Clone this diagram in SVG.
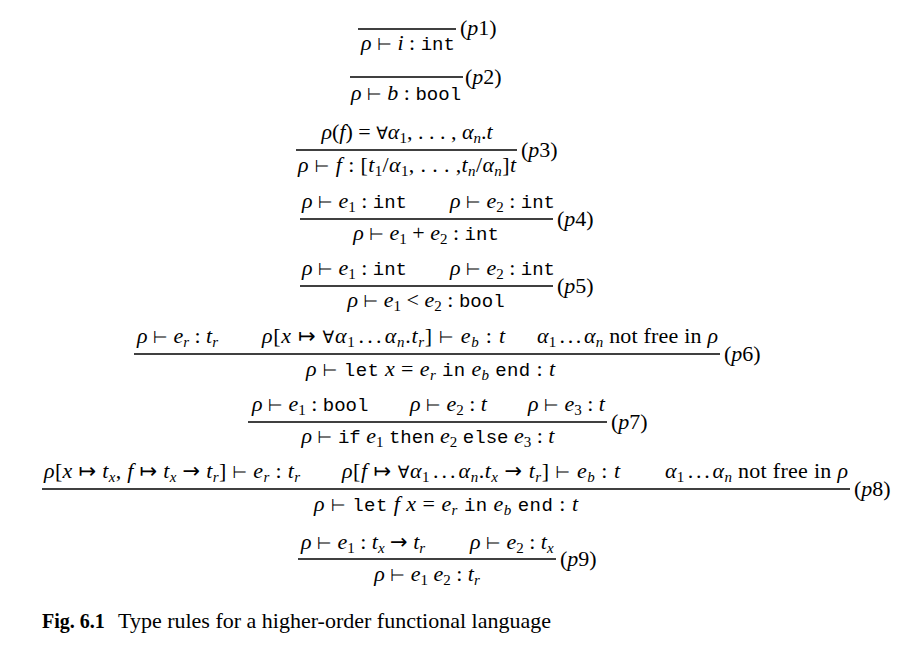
<svg xmlns="http://www.w3.org/2000/svg" width="906" height="661" viewBox="0 0 906 661">
<style>
.m{font-family:"Liberation Serif","Times New Roman",serif;font-size:22px;fill:#000}
.i{font-style:italic}
.tt{font-family:"Liberation Mono","Courier New",monospace;font-size:19px;font-style:normal}
.y{font-family:"DejaVu Sans",sans-serif;font-size:17px;font-style:normal}
.ar{font-family:"DejaVu Sans",sans-serif;font-size:21px;font-style:normal}
.s{font-size:15px}
.d{letter-spacing:2.5px}
.bar{stroke:#000;stroke-width:1.3}
.cap{font-family:"Liberation Serif","Times New Roman",serif;font-size:22px;fill:#000}
.fig{font-size:20px;font-weight:bold}
</style>
<rect width="906" height="661" fill="#fff"/>

<g id="p1">
<line class="bar" x1="358" y1="29" x2="456" y2="29"/>
<text class="m" x="408" y="50" text-anchor="middle"><tspan class="i">ρ</tspan> <tspan class="y">⊢</tspan> <tspan class="i">i</tspan> : <tspan class="tt">int</tspan></text>
<text class="m" x="460" y="35">(<tspan class="i">p</tspan>1)</text>
</g>

<g id="p2">
<line class="bar" x1="350" y1="77" x2="463" y2="77"/>
<text class="m" x="406" y="100" text-anchor="middle"><tspan class="i">ρ</tspan> <tspan class="y">⊢</tspan> <tspan class="i">b</tspan> : <tspan class="tt">bool</tspan></text>
<text class="m" x="465" y="84">(<tspan class="i">p</tspan>2)</text>
</g>

<g id="p3">
<text class="m" x="407" y="139" text-anchor="middle"><tspan class="i">ρ</tspan>(<tspan class="i">f</tspan>) = <tspan class="y">∀</tspan><tspan class="i">α</tspan><tspan class="s" dy="4">1</tspan><tspan dy="-4">, . . . , </tspan><tspan class="i">α</tspan><tspan class="s i" dy="4">n</tspan><tspan dy="-4">.</tspan><tspan class="i">t</tspan></text>
<line class="bar" x1="296" y1="150" x2="517" y2="150"/>
<text class="m" x="298" y="172" textLength="218" lengthAdjust="spacing"><tspan class="i">ρ</tspan> <tspan class="y">⊢</tspan> <tspan class="i">f</tspan> : [<tspan class="i">t</tspan><tspan class="s" dy="4">1</tspan><tspan dy="-4">/</tspan><tspan class="i">α</tspan><tspan class="s" dy="4">1</tspan><tspan dy="-4">, . . . ,</tspan><tspan class="i">t</tspan><tspan class="s i" dy="4">n</tspan><tspan dy="-4">/</tspan><tspan class="i">α</tspan><tspan class="s i" dy="4">n</tspan><tspan dy="-4">]</tspan><tspan class="i">t</tspan></text>
<text class="m" x="521" y="157">(<tspan class="i">p</tspan>3)</text>
</g>

<g id="p4">
<text class="m" x="302" y="208"><tspan class="i">ρ</tspan> <tspan class="y">⊢</tspan> <tspan class="i">e</tspan><tspan class="s" dy="4">1</tspan><tspan dy="-4"> : </tspan><tspan class="tt">int</tspan></text>
<text class="m" x="450" y="208"><tspan class="i">ρ</tspan> <tspan class="y">⊢</tspan> <tspan class="i">e</tspan><tspan class="s" dy="4">2</tspan><tspan dy="-4"> : </tspan><tspan class="tt">int</tspan></text>
<line class="bar" x1="300" y1="219" x2="553" y2="219"/>
<text class="m" x="426" y="240" text-anchor="middle"><tspan class="i">ρ</tspan> <tspan class="y">⊢</tspan> <tspan class="i">e</tspan><tspan class="s" dy="4">1</tspan><tspan dy="-4"> + </tspan><tspan class="i">e</tspan><tspan class="s" dy="4">2</tspan><tspan dy="-4"> : </tspan><tspan class="tt">int</tspan></text>
<text class="m" x="557" y="226">(<tspan class="i">p</tspan>4)</text>
</g>

<g id="p5">
<text class="m" x="302" y="275"><tspan class="i">ρ</tspan> <tspan class="y">⊢</tspan> <tspan class="i">e</tspan><tspan class="s" dy="4">1</tspan><tspan dy="-4"> : </tspan><tspan class="tt">int</tspan></text>
<text class="m" x="450" y="275"><tspan class="i">ρ</tspan> <tspan class="y">⊢</tspan> <tspan class="i">e</tspan><tspan class="s" dy="4">2</tspan><tspan dy="-4"> : </tspan><tspan class="tt">int</tspan></text>
<line class="bar" x1="300" y1="286" x2="553" y2="286"/>
<text class="m" x="426" y="307" text-anchor="middle"><tspan class="i">ρ</tspan> <tspan class="y">⊢</tspan> <tspan class="i">e</tspan><tspan class="s" dy="4">1</tspan><tspan dy="-4"> &lt; </tspan><tspan class="i">e</tspan><tspan class="s" dy="4">2</tspan><tspan dy="-4"> : </tspan><tspan class="tt">bool</tspan></text>
<text class="m" x="557" y="293">(<tspan class="i">p</tspan>5)</text>
</g>

<g id="p6">
<text class="m" x="137" y="343"><tspan class="i">ρ</tspan> <tspan class="y">⊢</tspan> <tspan class="i">e</tspan><tspan class="s i" dy="4">r</tspan><tspan dy="-4"> : </tspan><tspan class="i">t</tspan><tspan class="s i" dy="4">r</tspan></text>
<text class="m" x="262" y="343" textLength="243" lengthAdjust="spacing"><tspan class="i">ρ</tspan>[<tspan class="i">x</tspan> <tspan class="ar">↦</tspan> <tspan class="y">∀</tspan><tspan class="i">α</tspan><tspan class="s" dy="4">1</tspan><tspan class="d" dy="-4" dx="3">...</tspan><tspan class="i">α</tspan><tspan class="s i" dy="4">n</tspan><tspan dy="-4">.</tspan><tspan class="i">t</tspan><tspan class="s i" dy="4">r</tspan><tspan dy="-4">] </tspan><tspan class="y">⊢</tspan> <tspan class="i">e</tspan><tspan class="s i" dy="4">b</tspan><tspan dy="-4"> : </tspan><tspan class="i">t</tspan></text>
<text class="m" x="537" y="343" textLength="181" lengthAdjust="spacing"><tspan class="i">α</tspan><tspan class="s" dy="4">1</tspan><tspan class="d" dy="-4" dx="3">...</tspan><tspan class="i">α</tspan><tspan class="s i" dy="4">n</tspan><tspan dy="-4"> not free in </tspan><tspan class="i">ρ</tspan></text>
<line class="bar" x1="134" y1="354" x2="720" y2="354"/>
<text class="m" x="306" y="376" textLength="249" lengthAdjust="spacing"><tspan class="i">ρ</tspan> <tspan class="y">⊢</tspan> <tspan class="tt">let</tspan> <tspan class="i">x</tspan> = <tspan class="i">e</tspan><tspan class="s i" dy="4">r</tspan><tspan dy="-4"> </tspan><tspan class="tt">in</tspan> <tspan class="i">e</tspan><tspan class="s i" dy="4">b</tspan><tspan dy="-4"> </tspan><tspan class="tt">end</tspan>  : <tspan class="i">t</tspan></text>
<text class="m" x="724" y="361">(<tspan class="i">p</tspan>6)</text>
</g>

<g id="p7">
<text class="m" x="252" y="411"><tspan class="i">ρ</tspan> <tspan class="y">⊢</tspan> <tspan class="i">e</tspan><tspan class="s" dy="4">1</tspan><tspan dy="-4"> : </tspan><tspan class="tt">bool</tspan></text>
<text class="m" x="410" y="411"><tspan class="i">ρ</tspan> <tspan class="y">⊢</tspan> <tspan class="i">e</tspan><tspan class="s" dy="4">2</tspan><tspan dy="-4"> : </tspan><tspan class="i">t</tspan></text>
<text class="m" x="528" y="411"><tspan class="i">ρ</tspan> <tspan class="y">⊢</tspan> <tspan class="i">e</tspan><tspan class="s" dy="4">3</tspan><tspan dy="-4"> : </tspan><tspan class="i">t</tspan></text>
<line class="bar" x1="248" y1="422" x2="607" y2="422"/>
<text class="m" x="428" y="443" text-anchor="middle"><tspan class="i">ρ</tspan> <tspan class="y">⊢</tspan> <tspan class="tt">if</tspan> <tspan class="i">e</tspan><tspan class="s" dy="4">1</tspan><tspan dy="-4"> </tspan><tspan class="tt">then</tspan> <tspan class="i">e</tspan><tspan class="s" dy="4">2</tspan><tspan dy="-4"> </tspan><tspan class="tt">else</tspan> <tspan class="i">e</tspan><tspan class="s" dy="4">3</tspan><tspan dy="-4"> : </tspan><tspan class="i">t</tspan></text>
<text class="m" x="611" y="429">(<tspan class="i">p</tspan>7)</text>
</g>

<g id="p8">
<text class="m" x="44" y="478" textLength="256" lengthAdjust="spacing"><tspan class="i">ρ</tspan>[<tspan class="i">x</tspan> <tspan class="ar">↦</tspan> <tspan class="i">t</tspan><tspan class="s i" dy="4">x</tspan><tspan dy="-4">, </tspan><tspan class="i">f</tspan> <tspan class="ar">↦</tspan> <tspan class="i">t</tspan><tspan class="s i" dy="4">x</tspan><tspan dy="-4"> </tspan><tspan class="ar">→</tspan> <tspan class="i">t</tspan><tspan class="s i" dy="4">r</tspan><tspan dy="-4">] </tspan><tspan class="y">⊢</tspan> <tspan class="i">e</tspan><tspan class="s i" dy="4">r</tspan><tspan dy="-4"> : </tspan><tspan class="i">t</tspan><tspan class="s i" dy="4">r</tspan></text>
<text class="m" x="342" y="478" textLength="278" lengthAdjust="spacing"><tspan class="i">ρ</tspan>[<tspan class="i">f</tspan> <tspan class="ar">↦</tspan> <tspan class="y">∀</tspan><tspan class="i">α</tspan><tspan class="s" dy="4">1</tspan><tspan class="d" dy="-4" dx="3">...</tspan><tspan class="i">α</tspan><tspan class="s i" dy="4">n</tspan><tspan dy="-4">.</tspan><tspan class="i">t</tspan><tspan class="s i" dy="4">x</tspan><tspan dy="-4"> </tspan><tspan class="ar">→</tspan> <tspan class="i">t</tspan><tspan class="s i" dy="4">r</tspan><tspan dy="-4">] </tspan><tspan class="y">⊢</tspan> <tspan class="i">e</tspan><tspan class="s i" dy="4">b</tspan><tspan dy="-4"> : </tspan><tspan class="i">t</tspan></text>
<text class="m" x="665" y="478" textLength="183" lengthAdjust="spacing"><tspan class="i">α</tspan><tspan class="s" dy="4">1</tspan><tspan class="d" dy="-4" dx="3">...</tspan><tspan class="i">α</tspan><tspan class="s i" dy="4">n</tspan><tspan dy="-4"> not free in </tspan><tspan class="i">ρ</tspan></text>
<line class="bar" x1="42" y1="489" x2="850" y2="489"/>
<text class="m" x="314" y="511" textLength="264" lengthAdjust="spacing"><tspan class="i">ρ</tspan> <tspan class="y">⊢</tspan> <tspan class="tt">let</tspan> <tspan class="i">f x</tspan> = <tspan class="i">e</tspan><tspan class="s i" dy="4">r</tspan><tspan dy="-4"> </tspan><tspan class="tt">in</tspan> <tspan class="i">e</tspan><tspan class="s i" dy="4">b</tspan><tspan dy="-4"> </tspan><tspan class="tt">end</tspan>  : <tspan class="i">t</tspan></text>
<text class="m" x="854" y="496">(<tspan class="i">p</tspan>8)</text>
</g>

<g id="p9">
<text class="m" x="301" y="549"><tspan class="i">ρ</tspan> <tspan class="y">⊢</tspan> <tspan class="i">e</tspan><tspan class="s" dy="4">1</tspan><tspan dy="-4"> : </tspan><tspan class="i">t</tspan><tspan class="s i" dy="4">x</tspan><tspan dy="-4"> </tspan><tspan class="ar">→</tspan> <tspan class="i">t</tspan><tspan class="s i" dy="4">r</tspan></text>
<text class="m" x="470" y="549"><tspan class="i">ρ</tspan> <tspan class="y">⊢</tspan> <tspan class="i">e</tspan><tspan class="s" dy="4">2</tspan><tspan dy="-4"> : </tspan><tspan class="i">t</tspan><tspan class="s i" dy="4">x</tspan></text>
<line class="bar" x1="298" y1="559" x2="556" y2="559"/>
<text class="m" x="427" y="581" text-anchor="middle"><tspan class="i">ρ</tspan> <tspan class="y">⊢</tspan> <tspan class="i">e</tspan><tspan class="s" dy="4">1</tspan><tspan dy="-4"> </tspan><tspan class="i">e</tspan><tspan class="s" dy="4">2</tspan><tspan dy="-4"> : </tspan><tspan class="i">t</tspan><tspan class="s i" dy="4">r</tspan></text>
<text class="m" x="560" y="566">(<tspan class="i">p</tspan>9)</text>
</g>

<g id="caption">
<text class="cap fig" x="42" y="628">Fig. 6.1</text>
<text class="cap" x="118" y="628">Type rules for a higher-order functional language</text>
</g>
</svg>
